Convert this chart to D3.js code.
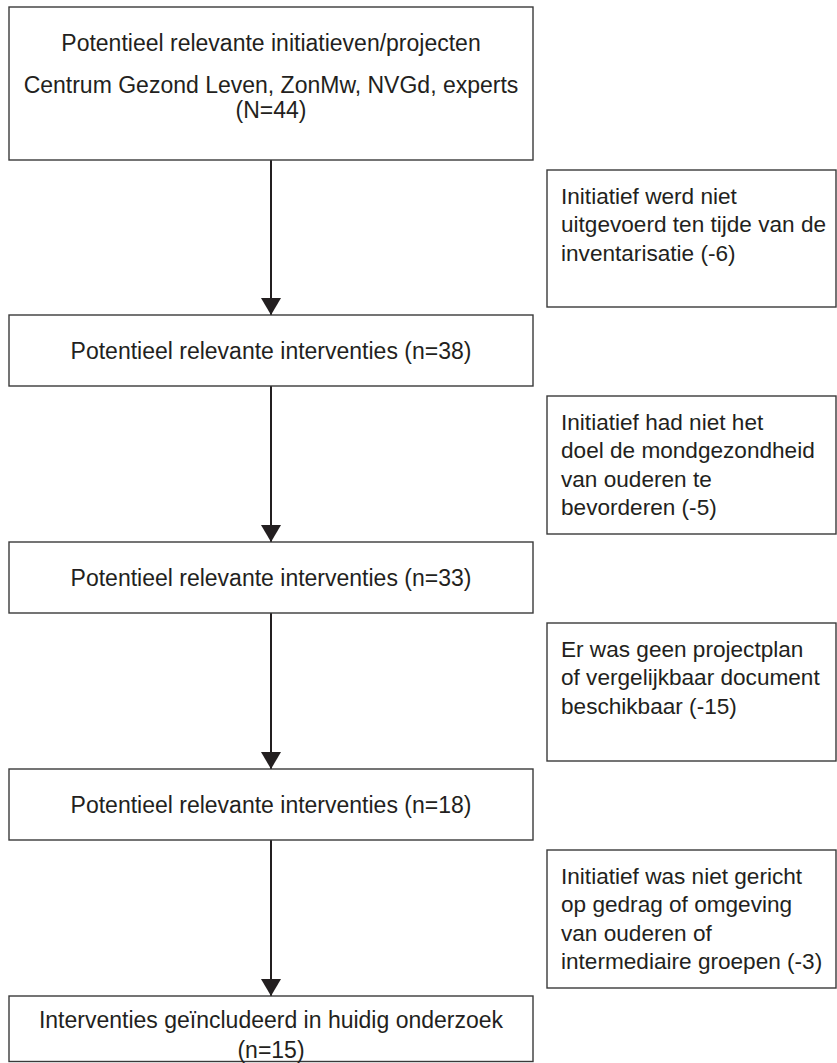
<!DOCTYPE html>
<html>
<head>
<meta charset="utf-8">
<script src="https://cdn.jsdelivr.net/npm/d3@7"></script>
<style>
	html, body { margin: 0; padding: 0; background: #fff; }
	svg text { font-family: "Liberation Sans", Arial, sans-serif; fill: #231f20; }
</style>
</head>
<body>
<svg id="flow" width="837" height="1063"></svg>
<script>
"use strict";

// stages of the selection (main column)
var stageCounts = [44, 38, 33, 18, 15];
var stageLines = [
	["Potentieel relevante initiatieven/projecten", "", "Centrum Gezond Leven, ZonMw, NVGd, experts", "(N=44)"],
	["Potentieel relevante interventies (n=38)"],
	["Potentieel relevante interventies (n=33)"],
	["Potentieel relevante interventies (n=18)"],
	["Interventies geïncludeerd in huidig onderzoek", "(n=15)"]
];

// exclusions (side column)
var exclusionCounts = [6, 5, 15, 3];
var exclusionLines = [
	["Initiatief werd niet", "uitgevoerd ten tijde van de", "inventarisatie (-6)"],
	["Initiatief had niet het", "doel de mondgezondheid", "van ouderen te", "bevorderen (-5)"],
	["Er was geen projectplan", "of vergelijkbaar document", "beschikbaar (-15)"],
	["Initiatief was niet gericht", "op gedrag of omgeving", "van ouderen of", "intermediaire groepen (-3)"]
];

var W = 837, H = 1063;
var fontSize = 23;
var sideFont = 22.6;
var mainLeft = 9, mainRight = 533;
var sideLeft = 547, sideRight = 836;
var cx = (mainLeft + mainRight) / 2;

// vertical position of each stage box (top)
var rowY = d3.scaleLinear().domain([1, 4]).range([315, 996]);
function boxTop(i) { return i === 0 ? 7 : rowY(i); }
function boxBottom(i) {
	if (i === 0) { return 160; }
	if (i === stageCounts.length - 1) { return 1061.5; }
	return rowY(i) + 71;
}

var svg = d3.select("#flow");

svg.append("defs").append("marker")
	.attr("id", "head")
	.attr("viewBox", "0 0 17 20")
	.attr("refX", 17).attr("refY", 10)
	.attr("markerWidth", 17).attr("markerHeight", 20)
	.attr("markerUnits", "userSpaceOnUse")
	.attr("orient", "auto")
	.append("path")
	.attr("d", "M0,0 L17,10 L0,20 Z")
	.attr("fill", "#231f20");

// arrows
for (var k = 0; k < stageCounts.length - 1; k++) {
	svg.append("line")
		.attr("x1", cx).attr("x2", cx)
		.attr("y1", boxBottom(k)).attr("y2", boxTop(k + 1))
		.attr("stroke", "#231f20")
		.attr("stroke-width", 2)
		.attr("marker-end", "url(#head)");
}

// main boxes
var stages = svg.selectAll("g.stage")
	.data(stageLines)
	.enter().append("g")
	.attr("class", "stage");

stages.append("rect")
	.attr("x", mainLeft)
	.attr("y", function(d, i){ return boxTop(i); })
	.attr("width", mainRight - mainLeft)
	.attr("height", function(d, i){ return boxBottom(i) - boxTop(i); })
	.attr("fill", "#fff")
	.attr("stroke", "#3a3a3a")
	.attr("stroke-width", 1.4);

stages.each(function(lines, i){
	var g = d3.select(this);
	var offs;
	if (i === 0) { offs = [36, null, 78, 103]; }
	else if (lines.length === 2) { offs = [24, 54]; }
	else { offs = [(boxBottom(i) - boxTop(i)) / 2]; }
	lines.forEach(function(t, j){
		if (!t) { return; }
		g.append("text")
			.attr("x", cx)
			.attr("y", boxTop(i) + offs[j])
			.attr("dy", "0.35em")
			.attr("text-anchor", "middle")
			.style("font-size", fontSize + "px")
			.text(t);
	});
});

// exclusion boxes, next to each arrow
var side = svg.selectAll("g.excl")
	.data(exclusionLines)
	.enter().append("g")
	.attr("class", "excl");

side.append("rect")
	.attr("x", sideLeft)
	.attr("y", function(d, i){ return boxBottom(i) + 10; })
	.attr("width", sideRight - sideLeft)
	.attr("height", function(d, i){ return boxTop(i + 1) - boxBottom(i) - 18; })
	.attr("fill", "#fff")
	.attr("stroke", "#3a3a3a")
	.attr("stroke-width", 1.4);

side.each(function(lines, i){
	var g = d3.select(this);
	var top = boxBottom(i) + 10;
	lines.forEach(function(t, j){
		g.append("text")
			.attr("x", sideLeft + 14)
			.attr("y", top + 26 + j * 28.5)
			.attr("dy", "0.35em")
			.style("font-size", sideFont + "px")
			.text(t);
	});
});
</script>
</body>
</html>
